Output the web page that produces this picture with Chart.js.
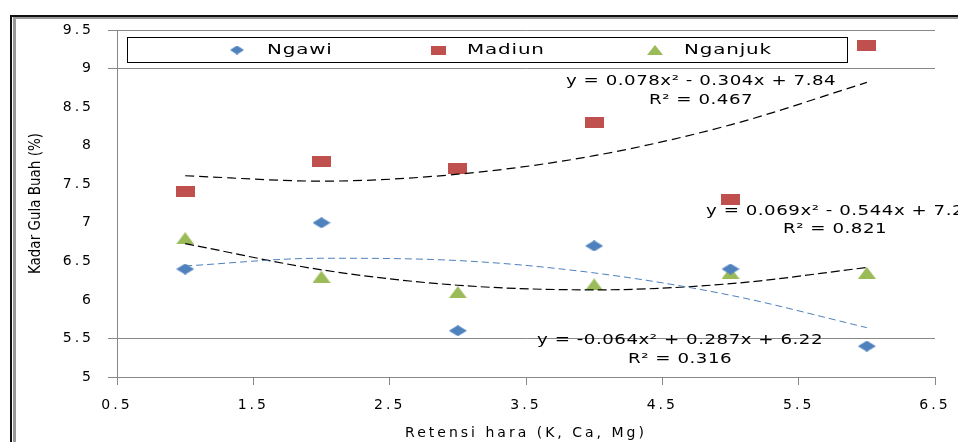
<!DOCTYPE html>
<html>
<head>
<meta charset="utf-8">
<script src="https://cdn.jsdelivr.net/npm/chart.js@4.4.1/dist/chart.umd.min.js"></script>
<style>
  html, body { margin: 0; padding: 0; background: #fff; }
  #wrap { width: 958px; height: 442px; }
</style>
</head>
<body>
<div id="wrap"><canvas id="chart" width="958" height="442"></canvas></div>
<script>
// data
const xValues = [1, 2, 3, 4, 5, 6];
const ngawi = [6.4, 7.0, 5.6, 6.7, 6.4, 5.4];
const madiun = [7.4, 7.8, 7.7, 8.3, 7.3, 9.3];
const nganjuk = [6.8, 6.3, 6.1, 6.2, 6.35, 6.35];

// trendline heights at x = 1..6
const ngawiTrend = [6.44, 6.54, 6.51, 6.35, 6.06, 5.64];
const madiunTrend = [7.61, 7.54, 7.63, 7.87, 8.27, 8.82];
const nganjukTrend = [6.73, 6.39, 6.19, 6.13, 6.21, 6.42];

const seriesNames = ['Ngawi', 'Madiun', 'Nganjuk'];
const equationLabels = [
    ['y = -0.064x² + 0.287x + 6.22', 'R² = 0.316'],
    ['y = 0.078x² - 0.304x + 7.84', 'R² = 0.467'],
    ['y = 0.069x² - 0.544x + 7.2', 'R² = 0.821']
];

const xTicks = [0.5, 1.5, 2.5, 3.5, 4.5, 5.5, 6.5];
const yTicks = [5, 5.5, 6, 6.5, 7, 7.5, 8, 8.5, 9, 9.5];
const yGridShown = [5, 5.5, 9, 9.5];

const blue = '#4F81BD';
const red = '#C0504D';
const green = '#9BBB59';

function toPoints(values) {
    return xValues.map((x, i) => ({ x: x, y: values[i] }));
}

// small canvases used as point markers
function makeMarker(shape, w, h, color) {
    const c = document.createElement('canvas');
    c.width = w;
    c.height = h;
    const g = c.getContext('2d');
    g.fillStyle = color;
    g.beginPath();
    if (shape === 'diamond') {
        g.moveTo(w / 2, 0); g.lineTo(w, h / 2); g.lineTo(w / 2, h); g.lineTo(0, h / 2);
    } else if (shape === 'triangle') {
        g.moveTo(w / 2, 0); g.lineTo(w, h); g.lineTo(0, h);
    } else {
        g.rect(0, 0, w, h);
    }
    g.closePath();
    g.fill();
    return c;
}

const markers = [
    makeMarker('diamond', 18, 11, blue),
    makeMarker('square', 19, 11, red),
    makeMarker('triangle', 18, 12, green)
];
const legendMarkers = [
    makeMarker('diamond', 14, 9, blue),
    makeMarker('square', 15, 9, red),
    makeMarker('triangle', 16, 10, green)
];

// text in the picture is stretched sideways
function wideText(ctx, text, x, y, align, stretch) {
    ctx.save();
    ctx.translate(x, y);
    ctx.scale(stretch, 1);
    ctx.textAlign = align;
    ctx.fillText(text, 0, 0);
    ctx.restore();
}

// frame, legend box, equations and y title
const decorations = {
    id: 'decorations',
    beforeLayout(chart) {
        chart.ctx.letterSpacing = '3px';
    },
    beforeDraw(chart) {
        const ctx = chart.ctx;
        ctx.letterSpacing = '3px';
        ctx.save();
        ctx.fillStyle = '#fff';
        ctx.fillRect(0, 0, chart.width, chart.height);
        ctx.fillStyle = '#111';
        ctx.fillRect(10, 15, chart.width - 10, 2);
        ctx.fillRect(10, 15, 2, chart.height - 15);
        ctx.fillStyle = '#999';
        ctx.fillRect(13, 17, chart.width - 13, 2);
        ctx.fillRect(13, 17, 3, chart.height - 17);
        ctx.restore();
    },
    afterDraw(chart) {
        const ctx = chart.ctx;
        const xs = chart.scales.x;
        const ys = chart.scales.y;

        // legend
        ctx.save();
        ctx.fillStyle = '#fff';
        ctx.fillRect(127, 37, 720, 25);
        ctx.strokeStyle = '#000';
        ctx.lineWidth = 1;
        ctx.strokeRect(127.5, 37.5, 720, 25);
        const markerX = [237, 438, 655];
        const textX = [267, 467, 684];
        ctx.font = '14px "DejaVu Sans"';
        ctx.letterSpacing = '0.6px';
        ctx.fillStyle = '#000';
        ctx.textBaseline = 'middle';
        seriesNames.forEach((name, i) => {
            const m = legendMarkers[i];
            ctx.drawImage(m, markerX[i] - m.width / 2, 50 - m.height / 2);
            wideText(ctx, name, textX[i], 50, 'left', 1.42);
        });
        ctx.restore();

        // trendline equations
        ctx.save();
        ctx.font = '14px "DejaVu Sans"';
        ctx.letterSpacing = '0.4px';
        ctx.fillStyle = '#000';
        ctx.textBaseline = 'middle';
        const spots = [[4.63, 5.48, 5.233], [4.784, 8.839, 8.592], [5.767, 7.153, 6.919]];
        equationLabels.forEach((lines, i) => {
            const px = xs.getPixelForValue(spots[i][0]);
            wideText(ctx, lines[0], px, ys.getPixelForValue(spots[i][1]), 'center', 1.3);
            wideText(ctx, lines[1], px, ys.getPixelForValue(spots[i][2]), 'center', 1.3);
        });
        ctx.restore();

        // y axis title
        ctx.save();
        ctx.letterSpacing = '0px';
        ctx.font = '15px "Liberation Sans Narrow", "DejaVu Sans Condensed", sans-serif';
        ctx.fillStyle = '#000';
        ctx.textAlign = 'center';
        ctx.textBaseline = 'middle';
        ctx.translate(36, (chart.chartArea.top + chart.chartArea.bottom) / 2);
        ctx.rotate(-Math.PI / 2);
        ctx.fillText('Kadar Gula Buah (%)', 0, 0);
        ctx.restore();
    }
};

const tickFont = { family: 'DejaVu Sans', size: 14 };

const chart = new Chart(document.getElementById('chart'), {
    type: 'scatter',
    data: {
        datasets: [
            { label: seriesNames[0], data: toPoints(ngawi), pointStyle: markers[0], pointRadius: 8, order: 1 },
            { label: seriesNames[1], data: toPoints(madiun), pointStyle: markers[1], pointRadius: 8, order: 1 },
            { label: seriesNames[2], data: toPoints(nganjuk), pointStyle: markers[2], pointRadius: 8, order: 1 },
            { label: 'Poly. (Ngawi)', data: toPoints(ngawiTrend), showLine: true, pointRadius: 0,
              borderColor: blue, borderWidth: 1, borderDash: [7, 4], cubicInterpolationMode: 'monotone', order: 0 },
            { label: 'Poly. (Madiun)', data: toPoints(madiunTrend), showLine: true, pointRadius: 0,
              borderColor: '#000', borderWidth: 1.2, borderDash: [9, 5], cubicInterpolationMode: 'monotone', order: 0 },
            { label: 'Poly. (Nganjuk)', data: toPoints(nganjukTrend), showLine: true, pointRadius: 0,
              borderColor: '#000', borderWidth: 1.2, borderDash: [9, 4], cubicInterpolationMode: 'monotone', order: 0 }
        ]
    },
    options: {
        responsive: false,
        animation: false,
        layout: { padding: { left: 0, right: 23, top: 30, bottom: 0 } },
        plugins: {
            legend: { display: false },
            tooltip: { enabled: false }
        },
        scales: {
            x: {
                type: 'linear',
                min: 0.5,
                max: 6.5,
                afterBuildTicks: s => { s.ticks = xTicks.map(v => ({ value: v })); },
                afterFit: s => {
                    s.height = 65;
                    s.paddingLeft = 0;
                    s.paddingRight = 0;
                },
                ticks: { color: '#000', font: tickFont, padding: 12, callback: v => String(v) },
                grid: { drawOnChartArea: false, color: '#888', tickLength: 8 },
                border: { color: '#888' },
                title: {
                    display: true,
                    text: 'Retensi hara (K, Ca, Mg)',
                    color: '#000',
                    font: { family: 'DejaVu Sans', size: 14 },
                    padding: { top: 0, bottom: 0 }
                }
            },
            y: {
                min: 5,
                max: 9.5,
                afterBuildTicks: s => { s.ticks = yTicks.map(v => ({ value: v })); },
                afterFit: s => { s.width = 117; },
                ticks: { color: '#000', font: tickFont, padding: 14, callback: v => String(v) },
                grid: {
                    color: c => (c.tick && yGridShown.includes(c.tick.value)) ? '#888' : 'rgba(0,0,0,0)',
                    tickLength: 9
                },
                border: { color: '#888' }
            }
        }
    },
    plugins: [decorations]
});
</script>
</body>
</html>
